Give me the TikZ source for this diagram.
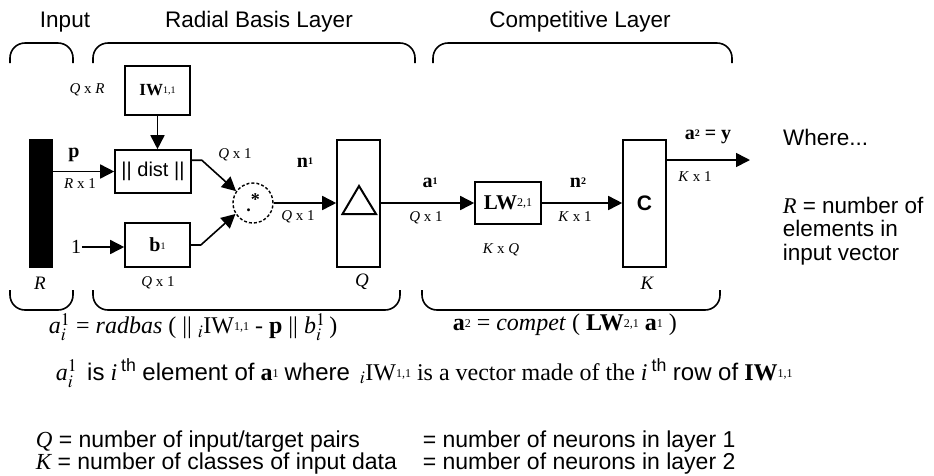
\documentclass[tikz,border=0pt]{standalone}
\usepackage{mathptmx}
\usepackage{fontspec}
\setmainfont{Liberation Serif}
\setsansfont{Liberation Sans}
\usetikzlibrary{arrows.meta,positioning,calc}
\newcommand{\idx}[2][10]{\raisebox{.3ex}{\fontsize{#1}{#1}\selectfont #2}}

\begin{document}
\begin{tikzpicture}[
  x=1pt, y=-1pt,
  font=\sffamily\fontsize{22.5}{23.5}\selectfont,
  >={Triangle[length=14pt,width=14pt]},
  line width=1.6pt,
  blk/.style={draw, line width=1.6pt, inner sep=0pt},
  dim/.style={font=\rmfamily\fontsize{15}{15}\selectfont, inner sep=0pt},
  sig/.style={font=\rmfamily\bfseries\fontsize{20}{20}\selectfont, inner sep=0pt},
  var/.style={font=\rmfamily\itshape\fontsize{19}{19}\selectfont, inner sep=0pt},
  txt/.style={anchor=west, inner sep=0pt, font=\rmfamily\fontsize{24}{24}\selectfont},
  brc/.style={line width=1.6pt, rounded corners=15pt},
]
\useasboundingbox (0,0) rectangle (934,475);
% Titles and braces
\node (tin) at (65,22) {Input};
\node (trb) at (259,22) {Radial Basis Layer};
\node (tcl) at (580,22) {Competitive Layer};
\foreach \l/\r in {10/73, 93/415, 433/732} {\draw[brc] (\l,63) -- (\l,43) -- (\r,43) -- (\r,63);}
\foreach \l/\r in {10/73, 93/400, 422/720} {\draw[brc] (\l,290) -- (\l,310) -- (\r,310) -- (\r,290);}
% Input
\node[blk, fill=black, minimum width=22pt, minimum height=127pt] (inp) at (41,203.5) {};
\node[var] (rlab) at (40,283) {R};
\node[sig] (plab) at (74,155) {p};
\node[dim] at (80,184) {\textit{R} x 1};
% Radial basis layer
\node[blk, minimum width=65pt, minimum height=49pt, font=\rmfamily\fontsize{17}{17}\selectfont] (iw) at (157.5,90.5) {\textbf{IW}\idx[10]{1,1}};
\node[dim] at (87,90) {\textit{Q} x \textit{R}};
\node[blk, minimum width=76pt, minimum height=43pt, font=\sffamily\fontsize{20}{20}\selectfont] (dist) at (153,171.5) {|| dist ||};
\node[dim] at (235,155) {\textit{Q} x 1};
\node[font=\rmfamily\fontsize{20}{20}\selectfont, inner sep=0pt] (one) at (76,247) {1};
\node[blk, minimum width=65pt, minimum height=44pt, font=\rmfamily\fontsize{20}{20}\selectfont] (bias) at (157.5,245) {\textbf{b}\idx{1}};
\node[dim] at (158,283) {\textit{Q} x 1};
\node[draw, circle, line width=1.4pt, dash pattern=on 3pt off 2pt, minimum size=40pt, inner sep=0pt, font=\rmfamily\bfseries\fontsize{18}{18}\selectfont] (prod) at (253,203) {.\raisebox{6pt}{*}};
\node[sig] at (305,163) {n\idx{1}};
\node[dim] at (298,217) {\textit{Q} x 1};
\node[blk, minimum width=43pt, minimum height=127pt] (rad) at (358.5,203.5) {};
\draw[line width=2pt] ($(rad)+(-16,10.5)$) -- ($(rad)+(0.5,-17.5)$) -- ($(rad)+(17.5,10.5)$) -- cycle;
\node[var] at (362,282) {Q};
\draw[->] (inp.east |- dist.west) -- (dist.west);
\draw[->] (iw.south) -- (iw.south |- dist.north);
\draw[->] (one.east) -- (one.east -| bias.west);
\draw[->] ([yshift=-11pt]dist.north east) -- ++(10,0) -- (prod.145);
\draw[->] (bias.east) -- ++(10,0) -- (prod.212);
\draw[->] (prod.east) -- (prod.east -| rad.west);
% Competitive layer
\node[sig] at (430,183) {a\idx{1}};
\node[dim] at (426,218) {\textit{Q} x 1};
\node[blk, minimum width=66pt, minimum height=42pt, font=\rmfamily\fontsize{21}{21}\selectfont] (lw) at (508,203) {\textbf{LW}\idx[12]{2,1}};
\node[dim] at (501,250) {\textit{K} x \textit{Q}};
\node[sig] at (578,183) {n\idx{2}};
\node[dim] at (575,217) {\textit{K} x 1};
\node[blk, minimum width=43pt, minimum height=127pt, font=\sffamily\bfseries\fontsize{21}{21}\selectfont] (comp) at (644.5,203.5) {C};
\node[var] at (647,283) {K};
\coordinate (out) at (750,160);
\node[sig] at (708,137) {a\idx{2} = y};
\node[dim] at (695,177) {\textit{K} x 1};
\draw[->] (rad.east |- lw.west) -- (lw.west);
\draw[->] (lw.east) -- (lw.east -| comp.west);
\draw[->] (comp.east |- out) -- (out);
% Notes
\node[anchor=west] (where) at (779,137) {Where...};
\node[anchor=north west, align=left, inner sep=0pt] (rdef) at (782,196) {{\rmfamily\itshape R} = number of\\elements in\\input vector};
\node[txt] (eq1) at (48,327)
  {\textit{a}$^1_i$ = \textit{radbas} ( || ${}_i$IW\idx[12]{1,1} - \textbf{p} || \textit{b}$^1_i$\,)};
\node[txt] (eq2) at (452,325)
  {\textbf{a}\idx[12]{2} = \textit{compet} ( \textbf{LW}\idx[12]{2,1} \textbf{a}\idx[12]{1} )};
\node[txt] (note) at (55,373)
  {\textit{a}$^1_i$\, \textsf{is} \textit{i}\,\textsuperscript{\sffamily th} \textsf{element of} \textbf{a}\idx[12]{1} \textsf{where} \,${}_i$IW\idx[12]{1,1} is a vector made of the \textit{i}\,\textsuperscript{\sffamily th} \textsf{row of} \textbf{IW}\idx[12]{1,1}};
\node[anchor=north west, align=left, inner sep=0pt, font=\sffamily\fontsize{23}{21}\selectfont] (qk) at (35,430)
  {{\rmfamily\itshape Q} = number of input/target pairs\\{\rmfamily\itshape K} = number of classes of input data};
\node[anchor=north west, align=left, inner sep=0pt, font=\sffamily\fontsize{23}{21}\selectfont] (neur) at (422,430)
  {= number of neurons in layer 1\\= number of neurons in layer 2};
\end{tikzpicture}
\end{document}
